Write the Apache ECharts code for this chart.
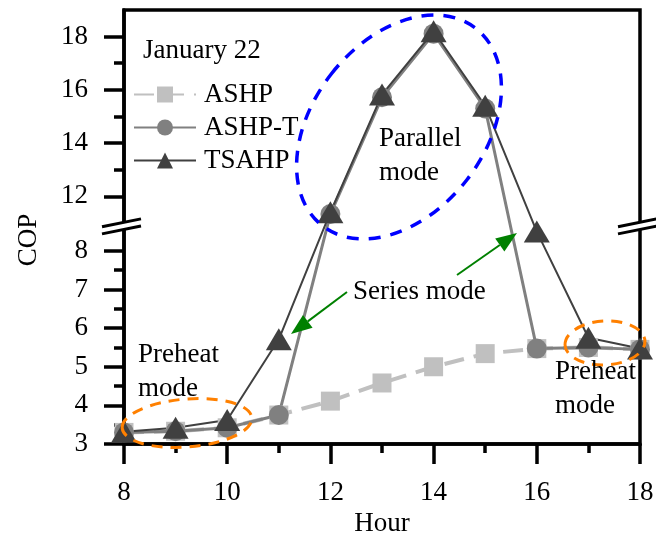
<!DOCTYPE html>
<html><head><meta charset="utf-8">
<script src="https://cdn.jsdelivr.net/npm/echarts@6/dist/echarts.min.js"></script>
<style>html,body{margin:0;padding:0;background:#fff}#c{width:656px;height:540px}</style>
</head><body><div id="c"></div>
<script>
// ---- data ----
const hours = [8, 9, 10, 11, 12, 13, 14, 15, 16, 17, 18];
const ashp  = [3.30, 3.33, 3.42, 3.75, 4.11, 4.58, 5.00, 5.34, 5.47, 5.50, 5.45];
const ashpT = [3.30, 3.33, 3.42, 3.75, 11.33, 15.72, 18.11, 15.30, 5.47, 5.50, 5.45];
const tsahp = [3.32, 3.42, 3.62, 5.71, 11.40, 15.82, 18.20, 15.40, 8.50, 5.75, 5.47];
const seriesNames = ['ASHP', 'ASHP-T', 'TSAHP'];
const yMajorLabels = [3, 4, 5, 6, 7, 8, 12, 14, 16, 18];
const yMinorTicks = [3.5, 4.5, 5.5, 6.5, 7.5, 13, 15, 17];
const xMin = 8, xMax = 18, xInterval = 2;

// ---- broken y axis: lower segment [3, 8.57], upper segment [11, 19] with its own scale ----
const LOW_MIN = 3, LOW_MAX = 8.57, UP_MIN = 11, UP_MAX = 19;
const GAP = 0.155;      // visual gap between the segments (in lower-segment units)
const K = 0.689;        // upper-segment scale relative to lower segment
function T(v) {
  if (v <= LOW_MAX) return v;
  if (v >= UP_MIN) return LOW_MAX + GAP + (v - UP_MIN) * K;
  return LOW_MAX + GAP * (v - LOW_MAX) / (UP_MIN - LOW_MAX);
}
function invT(t) {
  if (t <= LOW_MAX) return t;
  if (t >= LOW_MAX + GAP) return UP_MIN + (t - LOW_MAX - GAP) / K;
  return LOW_MAX;
}
const toData = arr => hours.map((h, i) => [h, T(arr[i])]);

const FONT = '"Liberation Serif", "Times New Roman", serif';
const FS = 27;
const chart = echarts.init(document.getElementById('c'), null, {renderer: 'canvas'});

const axisLineStyle = {color: '#000', width: 3.5};
chart.setOption({
  animation: false,
  backgroundColor: '#fff',
  grid: {left: 124, right: 16, top: 10, bottom: 96, outerBoundsMode: 'none', containLabel: false,
    show: true, borderColor: '#000', borderWidth: 3.5, backgroundColor: 'transparent'},
  legend: {
    data: seriesNames, orient: 'vertical', left: 133, top: 81, padding: 0,
    itemWidth: 62, itemHeight: 20, itemGap: 6,
    textStyle: {fontFamily: FONT, fontSize: FS, color: '#000', padding: [0, 0, 0, 3]}
  },
  xAxis: {
    type: 'value', min: xMin, max: xMax, interval: xInterval,
    name: 'Hour', nameLocation: 'middle', nameGap: 66,
    nameTextStyle: {fontFamily: FONT, fontSize: FS, color: '#000'},
    axisLine: {show: true, lineStyle: axisLineStyle},
    axisTick: {show: true, length: 20, lineStyle: axisLineStyle},
    minorTick: {show: true, splitNumber: 2, length: 9, lineStyle: axisLineStyle},
    axisLabel: {fontFamily: FONT, fontSize: FS, color: '#000', margin: 35},
    splitLine: {show: false}, minorSplitLine: {show: false}
  },
  yAxis: [{
    type: 'value', min: T(LOW_MIN), max: T(UP_MAX),
    name: 'COP', nameLocation: 'middle', nameGap: 82, nameRotate: 90,
    nameTextStyle: {fontFamily: FONT, fontSize: FS, color: '#000', padding: [0, 26, 0, 0]},
    axisLine: {show: true, lineStyle: axisLineStyle},
    axisTick: {show: true, length: 20, lineStyle: axisLineStyle, customValues: yMajorLabels.map(T)},
    axisLabel: {fontFamily: FONT, fontSize: FS, color: '#000', margin: 36,
      customValues: yMajorLabels.map(T), formatter: v => String(Math.round(invT(v)))},
    splitLine: {show: false}
  }, {
    type: 'value', min: T(LOW_MIN), max: T(UP_MAX), position: 'left',
    axisLine: {show: false},
    axisTick: {show: true, length: 10, lineStyle: axisLineStyle, customValues: yMinorTicks.map(T)},
    axisLabel: {show: false, customValues: yMinorTicks.map(T)},
    splitLine: {show: false}
  }],
  series: [{
    name: 'ASHP', type: 'line', data: toData(ashp), yAxisIndex: 0,
    symbol: 'rect', symbolSize: 19,
    itemStyle: {color: '#c0c0c0'},
    lineStyle: {color: '#c0c0c0', width: 4, type: [20, 10]}
  }, {
    name: 'ASHP-T', type: 'line', data: toData(ashpT), yAxisIndex: 0,
    symbol: 'circle', symbolSize: 20,
    itemStyle: {color: '#808080'},
    lineStyle: {color: '#808080', width: 3}
  }, {
    name: 'TSAHP', type: 'line', data: toData(tsahp), yAxisIndex: 0,
    symbol: 'triangle', symbolSize: [26, 22],
    itemStyle: {color: '#404040'},
    lineStyle: {color: '#404040', width: 2}
  }]
});

// ---- annotations / axis-break marks ----
const g = [];
const brk = chart.convertToPixel({gridIndex: 0}, [xMin, LOW_MAX + GAP / 2]);
const brkR = chart.convertToPixel({gridIndex: 0}, [xMax, LOW_MAX + GAP / 2]);
[[brk[0], brk[1]], [brkR[0], brkR[1]]].forEach(([x, y]) => {
  const a = -22, b = 17, s = -0.2, h = 3.6;
  g.push({type: 'polygon', z: 50, silent: true,
    shape: {points: [[x + a, y + s * a - h], [x + b, y + s * b - h], [x + b, y + s * b + h], [x + a, y + s * a + h]]},
    style: {fill: '#fff'}});
  [-h, h].forEach(o => g.push({type: 'line', z: 51, silent: true,
    shape: {x1: x + a, y1: y + s * a + o, x2: x + b, y2: y + s * b + o},
    style: {stroke: '#000', lineWidth: 3}}));
});
function ell(cx, cy, rx, ry, rot, color, dash, w) {
  g.push({type: 'ellipse', z: 40, silent: true, x: cx, y: cy, rotation: rot,
    shape: {cx: 0, cy: 0, rx: rx, ry: ry},
    style: {fill: 'none', stroke: color, lineWidth: w, lineDash: dash}});
}
ell(399, 127, 86, 125, -0.66, '#0000ff', [12, 10], 3.5);
ell(187, 423, 65, 24, 0.08, '#ff8000', [11, 8], 3);
ell(605, 343, 40, 22, 0.05, '#ff8000', [11, 8], 3);
function arrow(x1, y1, x2, y2) {
  const L = 21, W = 8, dx = x2 - x1, dy = y2 - y1, len = Math.hypot(dx, dy);
  const ux = dx / len, uy = dy / len, bx = x2 - ux * L, by = y2 - uy * L, px = -uy, py = ux;
  g.push({type: 'line', z: 40, silent: true, shape: {x1: x1, y1: y1, x2: bx, y2: by}, style: {stroke: '#008000', lineWidth: 2}});
  g.push({type: 'polygon', z: 40, silent: true, shape: {points: [[x2, y2], [bx + px * W, by + py * W], [bx - px * W, by - py * W]]}, style: {fill: '#008000'}});
}
arrow(347, 292, 291, 334);
arrow(457, 275, 517, 233);
function txt(x, y, s) {
  g.push({type: 'text', z: 45, silent: true, x: x, y: y,
    style: {text: s, fontFamily: FONT, fontSize: FS, fill: '#000', align: 'left', verticalAlign: 'middle', lineHeight: 34}});
}
txt(143, 51, 'January 22');
txt(379, 156, 'Parallel\nmode');
txt(353, 292, 'Series mode');
txt(138, 372, 'Preheat\nmode');
txt(555, 389, 'Preheat\nmode');
chart.setOption({graphic: g});
</script></body></html>
